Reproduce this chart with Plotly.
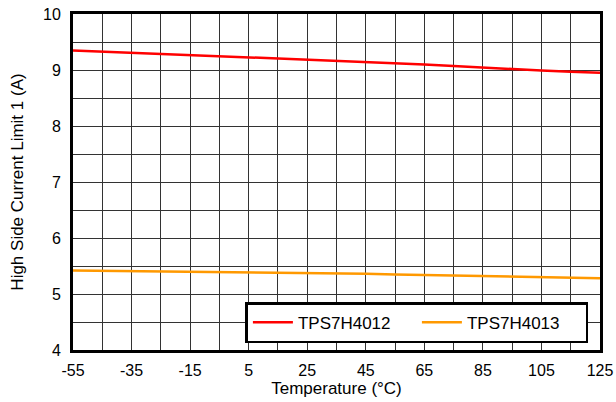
import plotly.graph_objects as go

temperature = [-55, -45, -35, -25, -15, -5, 5, 15, 25, 35, 45, 55, 65, 75, 85, 95, 105, 115, 125]
tps7h4012 = [9.35, 9.33, 9.31, 9.29, 9.27, 9.25, 9.23, 9.21, 9.19, 9.17, 9.15, 9.12, 9.10, 9.07, 9.04, 9.02, 8.99, 8.97, 8.95]
tps7h4013 = [5.42, 5.415, 5.41, 5.405, 5.40, 5.395, 5.39, 5.385, 5.375, 5.37, 5.36, 5.35, 5.34, 5.33, 5.32, 5.31, 5.30, 5.29, 5.28]

x_grid = list(range(-55, 126, 10))
x_labels = [str(v) if (v + 55) % 20 == 0 else "" for v in x_grid]
y_grid = [4 + 0.5 * i for i in range(13)]
y_labels = [str(int(v)) if v == int(v) else "" for v in y_grid]

fig = go.Figure()
fig.add_trace(go.Scatter(x=temperature, y=tps7h4012, mode="lines", name="TPS7H4012",
                         line=dict(color="#ff0000", width=2.5)))
fig.add_trace(go.Scatter(x=temperature, y=tps7h4013, mode="lines", name="TPS7H4013",
                         line=dict(color="#ff9900", width=2.5)))

font = dict(family="Liberation Sans, Arial, sans-serif", size=16, color="black")
fig.update_layout(
    width=616, height=402,
    margin=dict(l=73, r=16, t=14, b=52),
    paper_bgcolor="white", plot_bgcolor="white",
    font=font,
    showlegend=True,
    legend=dict(orientation="h", x=0.978, y=0.02, xanchor="right", yanchor="bottom",
                bgcolor="white", bordercolor="black", borderwidth=2.5,
                font=dict(size=17), itemwidth=40, entrywidth=114, entrywidthmode="pixels"),
    xaxis=dict(range=[-55, 125], tickmode="array", tickvals=x_grid, ticktext=x_labels,
               showgrid=True, gridcolor="#333333", gridwidth=1.2, automargin=False,
               showline=True, linecolor="black", linewidth=3, mirror=True, zeroline=False,
               ticks="", ticklabelstandoff=4,
               title=dict(text="Temperature (°C)", standoff=1, font=dict(size=17))),
    yaxis=dict(range=[4, 10], tickmode="array", tickvals=y_grid, ticktext=y_labels,
               showgrid=True, gridcolor="#333333", gridwidth=1.2, automargin=False,
               showline=True, linecolor="black", linewidth=3, mirror=True, zeroline=False,
               ticks="", ticklabelstandoff=6,
               title=dict(text="High Side Current Limit 1 (A)", standoff=16, font=dict(size=17))),
)

fig.write_html("out.html", config={"displayModeBar": False},
               post_script="document.body.style.margin='0px';")
